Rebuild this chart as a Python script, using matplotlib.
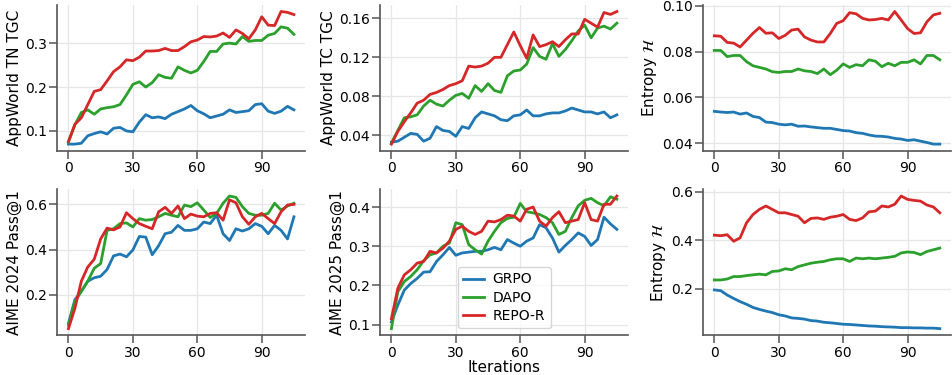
import numpy as np
import matplotlib
matplotlib.use("Agg")
import matplotlib.pyplot as plt

# iterations sampled every 3 steps
iters = np.arange(0, 106, 3)

# AppWorld TN TGC
tn_grpo = [0.070, 0.070, 0.072, 0.089, 0.094, 0.098, 0.093, 0.106, 0.108, 0.100, 0.098, 0.120,
           0.137, 0.130, 0.132, 0.128, 0.138, 0.144, 0.150, 0.158, 0.146, 0.139, 0.130, 0.134,
           0.138, 0.148, 0.142, 0.144, 0.146, 0.160, 0.162, 0.145, 0.140, 0.145, 0.156, 0.148]
tn_dapo = [0.075, 0.114, 0.142, 0.148, 0.138, 0.150, 0.153, 0.155, 0.160, 0.182, 0.206, 0.212,
           0.200, 0.210, 0.228, 0.222, 0.220, 0.246, 0.238, 0.232, 0.238, 0.258, 0.281, 0.281,
           0.298, 0.300, 0.298, 0.315, 0.304, 0.306, 0.306, 0.318, 0.322, 0.337, 0.334, 0.320]
tn_repo = [0.076, 0.115, 0.130, 0.160, 0.190, 0.194, 0.214, 0.235, 0.246, 0.262, 0.260, 0.268,
           0.282, 0.282, 0.283, 0.288, 0.283, 0.283, 0.292, 0.303, 0.307, 0.315, 0.314, 0.316,
           0.323, 0.313, 0.330, 0.322, 0.310, 0.330, 0.360, 0.341, 0.340, 0.372, 0.370, 0.365]

# AppWorld TC TGC
tc_grpo = [0.033, 0.034, 0.038, 0.042, 0.041, 0.034, 0.037, 0.049, 0.045, 0.044, 0.039, 0.049,
           0.047, 0.058, 0.064, 0.062, 0.060, 0.056, 0.055, 0.060, 0.061, 0.066, 0.060, 0.060,
           0.062, 0.063, 0.063, 0.065, 0.068, 0.066, 0.064, 0.064, 0.062, 0.064, 0.058, 0.061]
tc_dapo = [0.032, 0.045, 0.058, 0.059, 0.061, 0.070, 0.076, 0.072, 0.070, 0.076, 0.081, 0.083,
           0.078, 0.091, 0.085, 0.093, 0.086, 0.084, 0.101, 0.106, 0.107, 0.113, 0.130, 0.121,
           0.118, 0.134, 0.121, 0.128, 0.137, 0.147, 0.153, 0.140, 0.150, 0.152, 0.149, 0.155]
tc_repo = [0.031, 0.044, 0.054, 0.063, 0.073, 0.076, 0.082, 0.084, 0.087, 0.091, 0.093, 0.096,
           0.111, 0.110, 0.111, 0.114, 0.120, 0.120, 0.133, 0.146, 0.132, 0.119, 0.143, 0.131,
           0.133, 0.136, 0.131, 0.138, 0.144, 0.144, 0.159, 0.155, 0.151, 0.166, 0.164, 0.167]

# Entropy (AppWorld)
ent1_grpo = [0.0539, 0.0536, 0.0534, 0.0536, 0.0527, 0.0532, 0.0517, 0.0512, 0.0492, 0.0490, 0.0483, 0.0480,
             0.0483, 0.0474, 0.0475, 0.0471, 0.0468, 0.0465, 0.0465, 0.0460, 0.0455, 0.0453, 0.0446, 0.0443,
             0.0436, 0.0431, 0.0430, 0.0427, 0.0421, 0.0418, 0.0412, 0.0415, 0.0409, 0.0403, 0.0396, 0.0396]
ent1_dapo = [0.0805, 0.0805, 0.0778, 0.0783, 0.0783, 0.0756, 0.0738, 0.0731, 0.0724, 0.0712, 0.0709, 0.0713,
             0.0713, 0.0724, 0.0716, 0.0713, 0.0704, 0.0724, 0.0699, 0.0719, 0.0746, 0.0731, 0.0743, 0.0738,
             0.0764, 0.0758, 0.0734, 0.0749, 0.0738, 0.0753, 0.0753, 0.0764, 0.0746, 0.0783, 0.0783, 0.0764]
ent1_repo = [0.0869, 0.0867, 0.0840, 0.0837, 0.0820, 0.0850, 0.0880, 0.0905, 0.0880, 0.0882, 0.0857, 0.0871,
             0.0894, 0.0898, 0.0864, 0.0850, 0.0842, 0.0842, 0.0879, 0.0923, 0.0935, 0.0970, 0.0965, 0.0945,
             0.0938, 0.0940, 0.0945, 0.0938, 0.0975, 0.0938, 0.0900, 0.0879, 0.0882, 0.0930, 0.0960, 0.0967]

# AIME 2024 Pass@1
a24_grpo = [0.073, 0.178, 0.215, 0.260, 0.275, 0.282, 0.312, 0.372, 0.380, 0.368, 0.398, 0.458,
            0.455, 0.377, 0.417, 0.470, 0.477, 0.507, 0.485, 0.485, 0.492, 0.522, 0.515, 0.552,
            0.470, 0.440, 0.492, 0.482, 0.492, 0.515, 0.503, 0.470, 0.507, 0.485, 0.447, 0.545]
a24_dapo = [0.065, 0.170, 0.215, 0.260, 0.317, 0.338, 0.485, 0.492, 0.515, 0.518, 0.500, 0.537,
            0.530, 0.533, 0.545, 0.560, 0.552, 0.545, 0.597, 0.590, 0.607, 0.575, 0.542, 0.560,
            0.605, 0.637, 0.631, 0.590, 0.560, 0.552, 0.552, 0.560, 0.605, 0.575, 0.593, 0.605]
a24_repo = [0.050, 0.140, 0.260, 0.323, 0.357, 0.447, 0.495, 0.487, 0.500, 0.563, 0.537, 0.515,
            0.503, 0.492, 0.567, 0.587, 0.560, 0.593, 0.537, 0.557, 0.548, 0.545, 0.560, 0.563,
            0.530, 0.620, 0.607, 0.545, 0.512, 0.545, 0.560, 0.537, 0.515, 0.567, 0.597, 0.600]

# AIME 2025 Pass@1
a25_grpo = [0.107, 0.150, 0.188, 0.205, 0.218, 0.234, 0.235, 0.261, 0.278, 0.297, 0.277, 0.283,
            0.285, 0.287, 0.287, 0.291, 0.297, 0.291, 0.317, 0.308, 0.300, 0.313, 0.321, 0.355,
            0.347, 0.321, 0.285, 0.302, 0.317, 0.334, 0.325, 0.302, 0.317, 0.374, 0.357, 0.343]
a25_dapo = [0.090, 0.184, 0.210, 0.223, 0.240, 0.263, 0.278, 0.283, 0.300, 0.308, 0.360, 0.355,
            0.304, 0.291, 0.280, 0.313, 0.338, 0.360, 0.371, 0.374, 0.409, 0.388, 0.385, 0.381,
            0.373, 0.360, 0.330, 0.338, 0.373, 0.403, 0.417, 0.422, 0.411, 0.403, 0.426, 0.420]
a25_repo = [0.115, 0.193, 0.227, 0.240, 0.257, 0.261, 0.287, 0.283, 0.295, 0.313, 0.343, 0.351,
            0.338, 0.330, 0.338, 0.364, 0.362, 0.368, 0.379, 0.377, 0.364, 0.394, 0.400, 0.364,
            0.351, 0.373, 0.388, 0.360, 0.364, 0.368, 0.411, 0.368, 0.364, 0.407, 0.407, 0.428]

# Entropy (AIME)
ent2_grpo = [0.196, 0.193, 0.175, 0.161, 0.148, 0.137, 0.124, 0.116, 0.109, 0.103, 0.094, 0.089,
             0.081, 0.079, 0.076, 0.070, 0.068, 0.063, 0.061, 0.058, 0.055, 0.054, 0.052, 0.050,
             0.048, 0.047, 0.045, 0.044, 0.043, 0.041, 0.041, 0.040, 0.040, 0.039, 0.039, 0.037]
ent2_dapo = [0.237, 0.237, 0.241, 0.251, 0.251, 0.255, 0.258, 0.261, 0.258, 0.272, 0.274, 0.283,
             0.279, 0.292, 0.299, 0.306, 0.310, 0.313, 0.320, 0.324, 0.324, 0.313, 0.327, 0.324,
             0.327, 0.324, 0.327, 0.330, 0.334, 0.348, 0.352, 0.350, 0.341, 0.354, 0.361, 0.368]
ent2_repo = [0.421, 0.419, 0.423, 0.396, 0.410, 0.472, 0.506, 0.527, 0.541, 0.527, 0.513, 0.513,
             0.506, 0.499, 0.472, 0.490, 0.492, 0.486, 0.495, 0.499, 0.506, 0.486, 0.481, 0.492,
             0.517, 0.520, 0.541, 0.537, 0.548, 0.582, 0.568, 0.564, 0.561, 0.545, 0.537, 0.513]

method_names = ['GRPO', 'DAPO', 'REPO-R']
method_colors = ['#1f77b4', '#2ca02c', '#d62728']

panels = [
    ('AppWorld TN TGC', [tn_grpo, tn_dapo, tn_repo], [0.1, 0.2, 0.3]),
    ('AppWorld TC TGC', [tc_grpo, tc_dapo, tc_repo], [0.04, 0.08, 0.12, 0.16]),
    (r'Entropy $\mathcal{H}$', [ent1_grpo, ent1_dapo, ent1_repo], [0.04, 0.06, 0.08, 0.10]),
    ('AIME 2024 Pass@1', [a24_grpo, a24_dapo, a24_repo], [0.2, 0.4, 0.6]),
    ('AIME 2025 Pass@1', [a25_grpo, a25_dapo, a25_repo], [0.1, 0.2, 0.3, 0.4]),
    (r'Entropy $\mathcal{H}$', [ent2_grpo, ent2_dapo, ent2_repo], [0.2, 0.4, 0.6]),
]
tick_formats = ['%.1f', '%.2f', '%.2f', '%.1f', '%.1f', '%.1f']

fig, axes = plt.subplots(2, 3, figsize=(9.53, 3.75), dpi=100)
fig.subplots_adjust(left=0.06, right=0.998, bottom=0.106, top=0.987, wspace=0.302, hspace=0.265)

for i, (ax, (ylabel, series, yticks)) in enumerate(zip(axes.flat, panels)):
    for vals, name, col in zip(series, method_names, method_colors):
        ax.plot(iters, vals, color=col, lw=2, label=name)
    ax.set_ylabel(ylabel, fontsize=11, labelpad=2)
    ax.set_xticks([0, 30, 60, 90])
    ax.set_yticks(yticks)
    ax.set_yticklabels([tick_formats[i] % t for t in yticks])
    ax.grid(True, color='#e6e6e6', lw=0.9)
    ax.set_axisbelow(True)
    for s in ['top', 'right']:
        ax.spines[s].set_visible(False)
    for s in ['left', 'bottom']:
        ax.spines[s].set_color('#555555')
        ax.spines[s].set_linewidth(1.2)
    ax.tick_params(labelsize=10, length=6, width=1.1, pad=1.5, color='#555555', direction='out')

axes[1, 1].set_xlabel('Iterations', fontsize=11, labelpad=0)
axes[1, 1].legend(loc='lower center', fontsize=10, frameon=True, handlelength=1.5,
                  handletextpad=0.6, edgecolor='#cccccc', borderpad=0.4, labelspacing=0.3)

fig.savefig('out.png', dpi=100)
